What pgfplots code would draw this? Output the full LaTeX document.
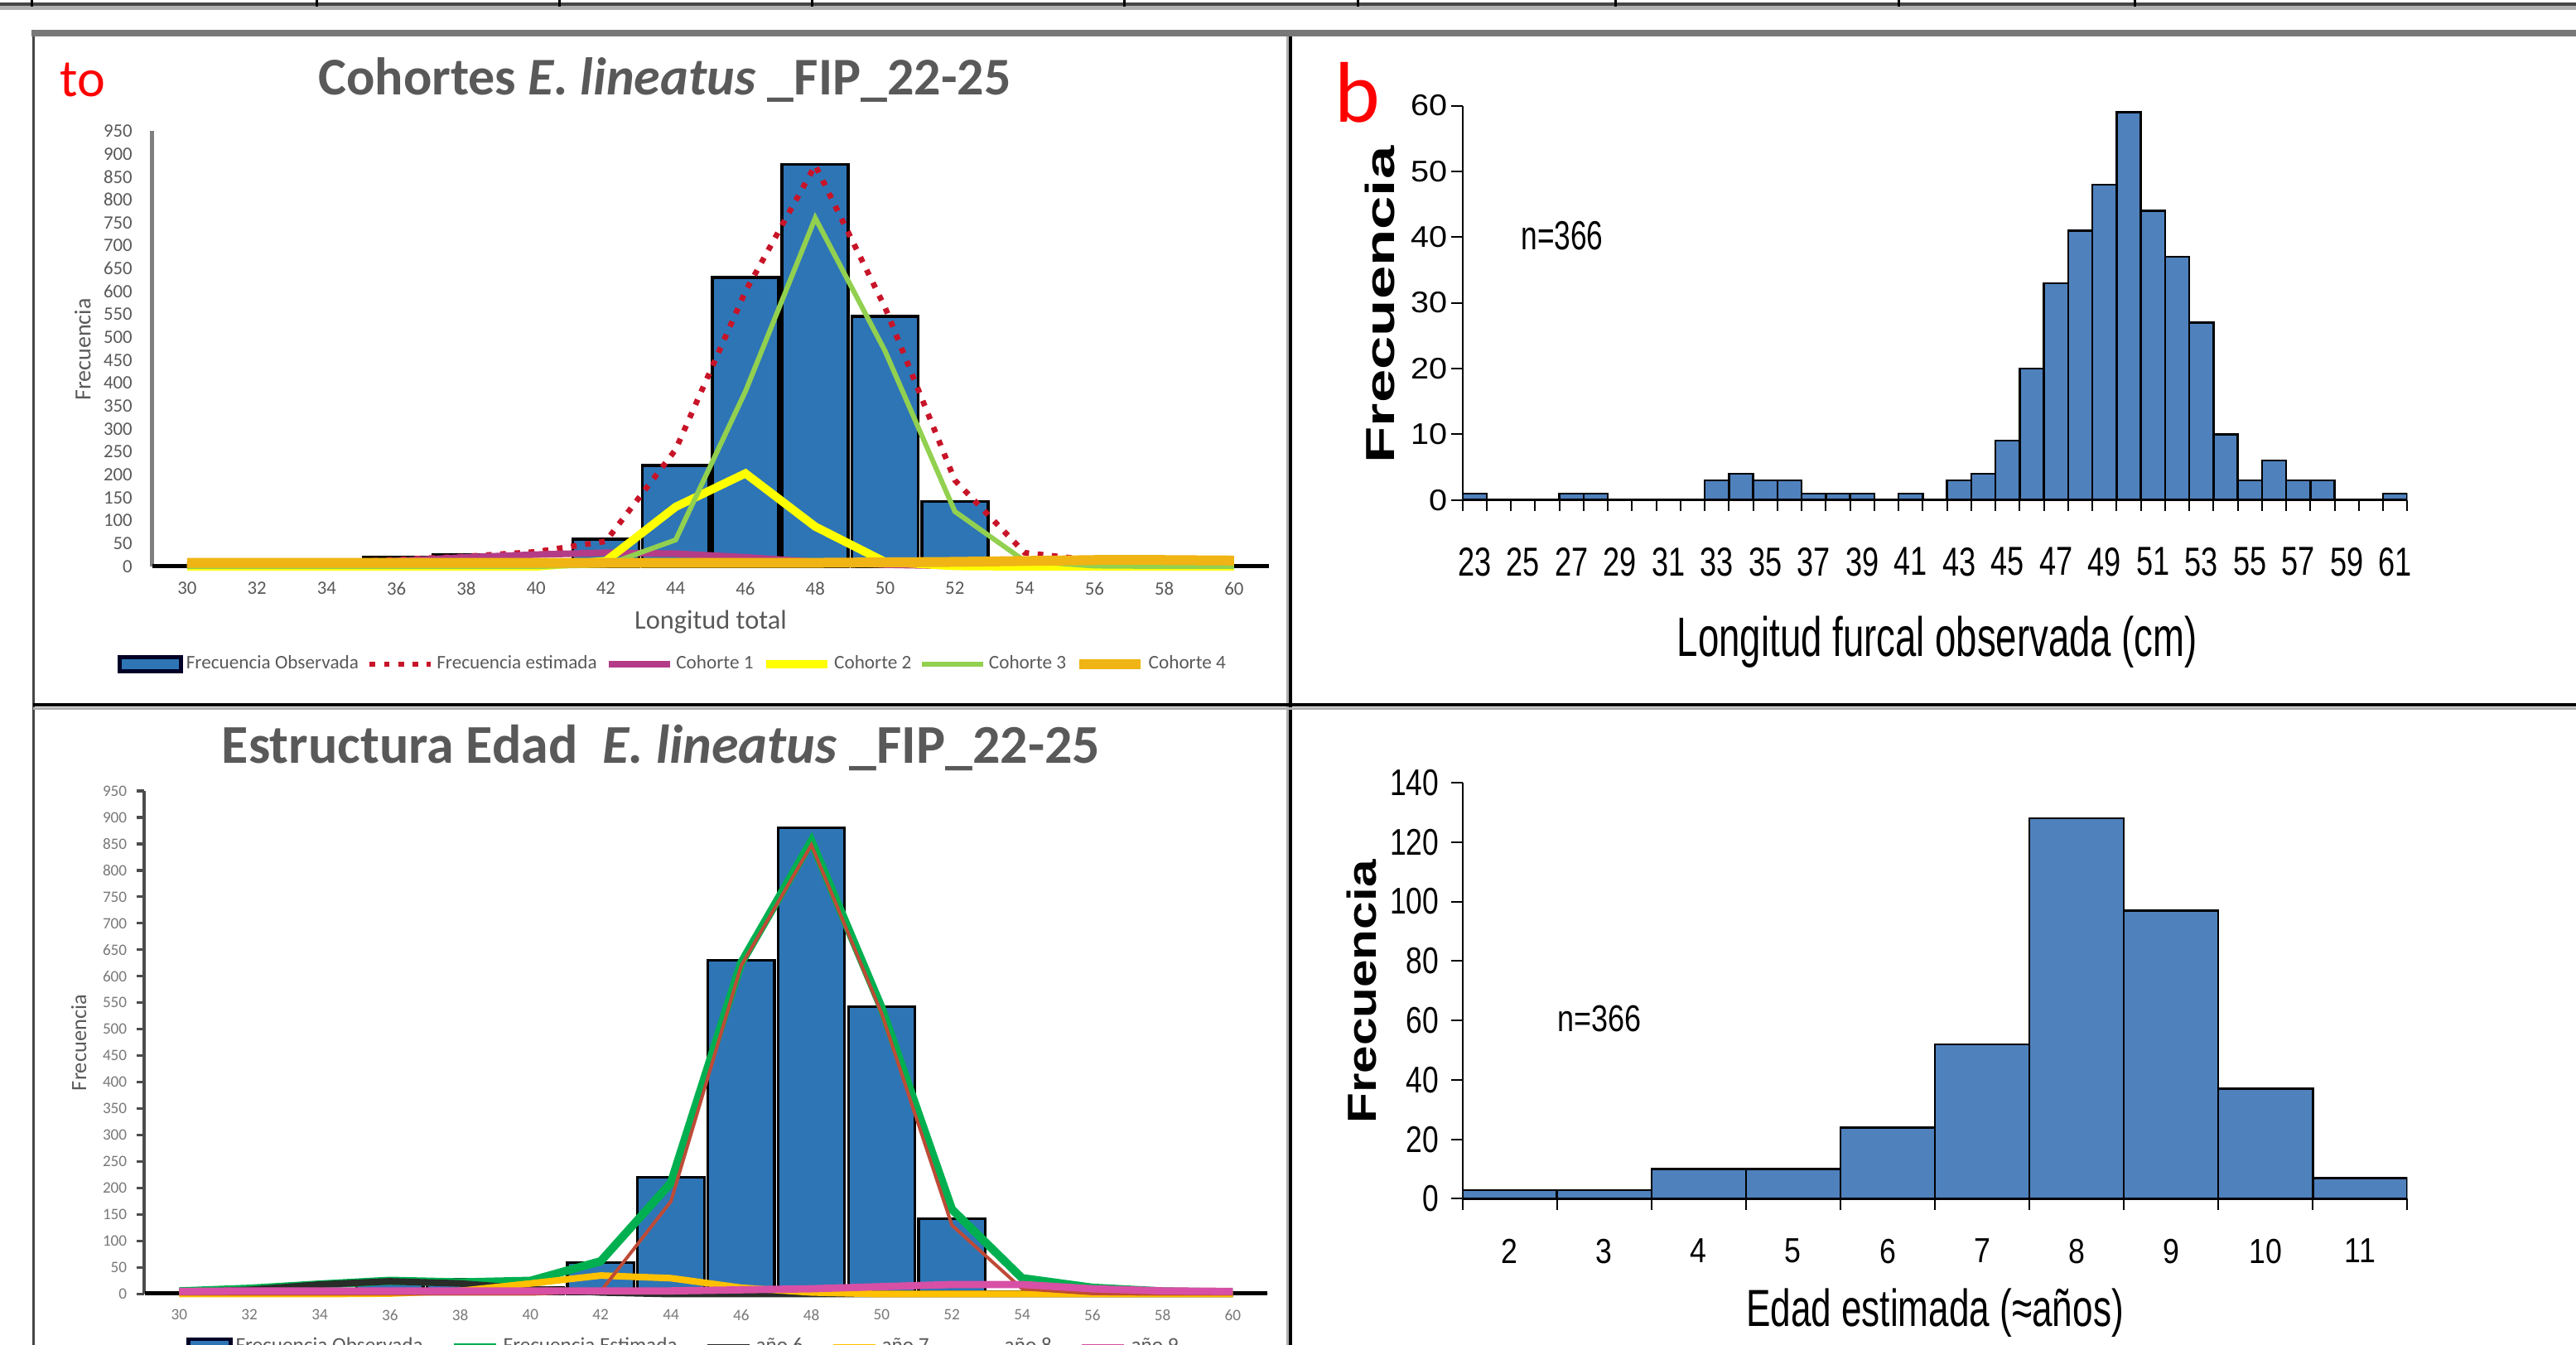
\documentclass[border=0pt]{standalone}
\usepackage{pgfplots}
\usepackage{pgfplotstable}
\pgfplotsset{compat=1.18}
\usepackage{fontspec}
\setmainfont{Carlito}
\newfontfamily\carl{Carlito}
\newfontfamily\fbxt[FakeStretch=0.74]{Liberation Sans}
\newfontfamily\fbyt[FakeStretch=1.1]{Liberation Sans}
\newfontfamily\fbxl[FakeStretch=0.68]{Liberation Sans}
\newfontfamily\fbyl[FakeStretch=1.48]{Liberation Sans}
\newfontfamily\fbn[FakeStretch=0.72]{Liberation Sans}
\newfontfamily\fdxt[FakeStretch=0.85]{Liberation Sans}
\newfontfamily\fdyt[FakeStretch=0.79]{Liberation Sans}
\newfontfamily\fdxl[FakeStretch=0.7]{Liberation Sans}
\newfontfamily\fdyl[FakeStretch=1.23]{Liberation Sans}
\newfontfamily\fdn[FakeStretch=0.8]{Liberation Sans}

\definecolor{barA}{RGB}{46,117,182}
\definecolor{txtA}{RGB}{89,89,89}
\definecolor{txtC}{RGB}{120,120,120}
\definecolor{estA}{RGB}{200,20,40}
\definecolor{co1}{RGB}{180,60,135}
\definecolor{co2}{RGB}{255,255,0}
\definecolor{co3}{RGB}{146,208,80}
\definecolor{co4}{RGB}{240,180,20}
\definecolor{estC}{RGB}{0,176,80}
\definecolor{a6}{RGB}{40,45,40}
\definecolor{a7}{RGB}{255,192,0}
\definecolor{a8}{RGB}{190,75,55}
\definecolor{a9}{RGB}{215,80,165}
\definecolor{barB}{RGB}{79,129,189}
\definecolor{frmdark}{RGB}{70,70,70}
\definecolor{frmlight}{RGB}{175,175,175}
\definecolor{frmgray}{RGB}{120,120,120}
\definecolor{axgray}{RGB}{127,127,127}

\pgfplotsset{/pgf/number format/assume math mode=true}

\pgfplotstableread{
x obs est c1 c2 c3 c4
30 3 5 2 0 0 8
32 0 6 4 0 0 8
34 0 8 7 0 0 8
36 20 15 12 0 0 8
38 25 22 20 0 0 8
40 12 32 26 0 0 8
42 60 55 30 12 3 8
44 220 255 28 130 58 8
46 630 600 20 203 382 8
48 877 875 10 87 760 8
50 545 565 4 10 470 9
52 142 188 1 1 120 10
54 5 30 0 0 12 12
56 0 13 0 0 1 14
58 0 8 0 0 0 14
60 3 5 0 0 0 13
}\dataA

\pgfplotstableread{
x obs est a6 a7 a8 a9
30 3 5 3 0 0 5
32 0 10 8 0 0 6
34 0 18 18 0 0 6
36 20 25 24 1 0 6
38 28 22 20 6 0 6
40 12 25 10 20 0 6
42 60 62 3 35 5 6
44 220 210 0 30 175 6
46 630 625 0 12 620 8
48 880 855 0 3 848 10
50 543 540 0 0 530 14
52 142 160 0 0 130 18
54 5 30 0 0 10 18
56 0 12 0 0 1 10
58 0 5 0 0 0 6
60 3 3 0 0 0 5
}\dataC

\pgfplotstableread{
x f
23 1
24 0
25 0
26 0
27 1
28 1
29 0
30 0
31 0
32 0
33 3
34 4
35 3
36 3
37 1
38 1
39 1
40 0
41 1
42 0
43 3
44 4
45 9
46 20
47 33
48 41
49 48
50 59
51 44
52 37
53 27
54 10
55 3
56 6
57 3
58 3
59 0
60 0
61 1
}\dataB

\pgfplotstableread{
x f
2 3
3 3
4 10
5 10
6 24
7 52
8 128
9 97
10 37
11 7
}\dataD

\begin{document}
\begin{tikzpicture}
\useasboundingbox (0pt,0pt) rectangle (777.5pt,-406pt);
\clip (0pt,0pt) rectangle (777.5pt,-406pt);
\begin{scope}[x=0.25pt,y=-0.25pt]
\draw[line width=1pt, draw=frmdark] (0,5) -- (3110,5);
\draw[line width=1.2pt, draw=frmlight] (0,9.5) -- (3110,9.5);
\foreach \xx in {38,382,675,980,1357,1639,1950,2292,2577} {\draw[line width=0.75pt, black] (\xx,0) -- (\xx,8);}
\draw[line width=2pt, draw=frmgray] (38,40) -- (3110,40);
\draw[line width=0.75pt, draw=frmdark] (40,44) -- (40,1624);
\draw[line width=0.7pt, draw=frmlight] (1554.5,44) -- (1554.5,1624);
\draw[line width=1pt, draw=black] (1558,44) -- (1558,1624);
\draw[line width=1pt, black] (40,851) -- (3110,851);
\draw[line width=0.8pt, draw=frmlight] (40,855.5) -- (3110,855.5);
\node[text=red, font=\carl\fontsize{16}{18}\selectfont] at (100,97) {to};
\node[text=red, font=\carl\fontsize{26}{30}\selectfont] at (1639,112) {b};
\end{scope}

% ---------------- Panel a ----------------
\begin{axis}[
  at={(45.925pt,-171pt)}, anchor=south west,
  scale only axis, width=337.075pt, height=131.5pt,
  xmin=29, xmax=61, ymin=0, ymax=950,
  clip=false,
  axis x line*=bottom, axis y line*=left,
  x axis line style={draw=black!15, line width=0.5pt},
  y axis line style={draw=axgray, line width=1.2pt},
  xtick={30,32,...,60}, ytick={0,50,...,950},
  major tick length=0pt,
  ticklabel style={font=\carl\fontsize{5.7}{6}\selectfont\color{txtA}, inner sep=0pt},
  xticklabel style={yshift=-4.5pt},
  yticklabel style={xshift=-5.8pt},
  xlabel={Longitud total}, ylabel={Frecuencia},
  xlabel style={at={(axis description cs:0.5001,-0.1274)}, anchor=center, font=\carl\fontsize{8.1}{9}\selectfont\color{txtA}},
  ylabel style={at={(axis description cs:-0.0621,0.498)}, anchor=center, font=\carl\fontsize{7}{8}\selectfont\color{txtA}},
  title={Cohortes \textit{E. lineatus} \_FIP\_22-25},
  title style={at={(axis description cs:0.459,1.117)}, anchor=center, yshift=-6pt, font=\carl\bfseries\fontsize{16}{19}\selectfont\color{txtA}},
  legend style={at={(-0.0312,-0.2243)}, anchor=west, draw=none, fill=none, inner sep=0pt,
    legend columns=6, font=\carl\fontsize{5.8}{7}\selectfont\color{txtA},
    nodes={inner sep=0.9pt},
    /tikz/every even column/.append style={column sep=1.6pt}},
  legend image code/.code={\draw[#1] (0pt,0pt) -- (18.5pt,0pt);},
  no markers,
]
\addplot[ybar, bar width=1.9, bar shift=0pt, fill=barA, draw=black, line width=0.9pt,
  legend image code/.code={\draw[fill=barA, draw=black!85!blue, line width=1.2pt] (0pt,-2.2pt) rectangle (18.5pt,2.2pt);}]
  table[x=x,y=obs]{\dataA};
\addlegendentry{Frecuencia Observada}
\addplot[estA, line width=1.7pt, dash pattern=on 1.7pt off 2.6pt] table[x=x,y=est]{\dataA};
\addlegendentry{Frecuencia estimada}
\addplot[co1, line width=2pt] table[x=x,y=c1]{\dataA};
\addlegendentry{Cohorte 1}
\addplot[co2, line width=2.5pt] table[x=x,y=c2]{\dataA};
\addlegendentry{Cohorte 2}
\addplot[co3, line width=1.5pt] table[x=x,y=c3]{\dataA};
\addlegendentry{Cohorte 3}
\addplot[co4, line width=3pt] table[x=x,y=c4]{\dataA};
\addlegendentry{Cohorte 4}
\end{axis}

% ---------------- Panel c ----------------
\begin{axis}[
  at={(43.5pt,-390.625pt)}, anchor=south west,
  scale only axis, width=339.2pt, height=151.875pt,
  xmin=29, xmax=61, ymin=0, ymax=950,
  clip=false,
  axis x line*=bottom, axis y line*=left,
  x axis line style={draw=black!15, line width=0.5pt},
  y axis line style={draw=black!70, line width=1pt},
  xtick={30,32,...,60}, ytick={0,50,...,950},
  xtick style={draw=none},
  tick align=outside, major tick length=2.25pt,
  ytick style={draw=black!70, line width=0.8pt},
  ticklabel style={font=\carl\fontsize{4.8}{5}\selectfont\color{txtC}, inner sep=0pt},
  xticklabel style={yshift=-2.25pt},
  yticklabel style={xshift=-2.75pt},
  ylabel={Frecuencia},
  ylabel style={at={(axis description cs:-0.0582,0.4996)}, anchor=center, font=\carl\fontsize{6.6}{7}\selectfont\color{txtA}},
  title={Estructura Edad\ \ \textit{E. lineatus} \_FIP\_22-25},
  title style={at={(axis description cs:0.46,1.0864)}, anchor=center, yshift=-6pt, font=\carl\bfseries\fontsize{16.5}{19}\selectfont\color{txtA}},
  legend style={at={(0.0369,-0.1062)}, anchor=west, draw=none, fill=none, inner sep=0pt,
    legend columns=6, font=\carl\fontsize{6.3}{7}\selectfont\color{txtA},
    nodes={inner sep=1pt},
    /tikz/every even column/.append style={column sep=7pt}},
  legend image code/.code={\draw[#1] (0pt,0pt) -- (12.75pt,0pt);},
  no markers,
]
\addplot[ybar, bar width=1.9, bar shift=0pt, fill=barA, draw=black, line width=0.8pt,
  legend image code/.code={\draw[fill=barA, draw=black!85!blue, line width=1.2pt] (0pt,-2.5pt) rectangle (12.75pt,2.5pt);}]
  table[x=x,y=obs]{\dataC};
\addlegendentry{Frecuencia Observada}
\addplot[estC, line width=2.5pt] table[x=x,y=est]{\dataC};
\addlegendentry{Frecuencia Estimada}
\addplot[a6, line width=2pt] table[x=x,y=a6]{\dataC};
\addlegendentry{año 6}
\addplot[a7, line width=2pt] table[x=x,y=a7]{\dataC};
\addlegendentry{año 7}
\addplot[a8, line width=1pt] table[x=x,y=a8]{\dataC};
\addlegendentry{año 8}
\addplot[a9, line width=2.2pt] table[x=x,y=a9]{\dataC};
\addlegendentry{año 9}
\end{axis}

% ---------------- Panel b ----------------
\begin{axis}[
  at={(441.4pt,-150.925pt)}, anchor=south west,
  scale only axis, width=285.2pt, height=119.05pt,
  xmin=22.5, xmax=61.5, ymin=0, ymax=60,
  axis x line*=bottom, axis y line*=left,
  x axis line style={line width=0.9pt},
  y axis line style={line width=0.5pt},
  xtick={22.5,23.5,...,61.5},
  xticklabels={23,,25,,27,,29,,31,,33,,35,,37,,39,,41,,43,,45,,47,,49,,51,,53,,55,,57,,59,,61},
  x tick label as interval,
  ytick={0,10,...,60},
  tick align=outside, major tick length=3.3pt,
  tick style={black, line width=0.5pt},
  xticklabel style={font=\fbxt\fontsize{12.2}{13}\selectfont, inner sep=0pt, yshift=-10.9pt},
  yticklabel style={font=\fbyt\fontsize{9}{10}\selectfont, inner sep=0pt, xshift=-1.1pt},
  xlabel={Longitud furcal observada (cm)}, ylabel={Frecuencia},
  xlabel style={at={(axis description cs:0.5026,-0.3597)}, anchor=center, font=\fbxl\fontsize{16.75}{18}\selectfont},
  ylabel style={at={(axis description cs:-0.0873,0.495)}, anchor=center, font=\fbyl\bfseries\fontsize{12.25}{13}\selectfont},
]
\addplot[ybar, bar width=1, bar shift=0pt, fill=barB, draw=black, line width=0.6pt] table[x=x,y=f]{\dataB};
\node[font=\fbn\fontsize{12.25}{13}\selectfont] at (axis description cs:0.1055,0.671) {n=366};
\end{axis}

% ---------------- Panel d ----------------
\begin{axis}[
  at={(441.4pt,-361.875pt)}, anchor=south west,
  scale only axis, width=285.2pt, height=125.625pt,
  xmin=1.5, xmax=11.5, ymin=0, ymax=140,
  axis x line*=bottom, axis y line*=left,
  x axis line style={line width=0.9pt},
  y axis line style={line width=0.5pt},
  xtick={1.5,2.5,...,11.5},
  xticklabels={2,3,4,5,6,7,8,9,10,11},
  x tick label as interval,
  ytick={0,20,...,140},
  tick align=outside, major tick length=3.3pt,
  tick style={black, line width=0.5pt},
  xticklabel style={font=\fdxt\fontsize{10.5}{11}\selectfont, inner sep=0pt, yshift=-8.6pt},
  yticklabel style={font=\fdyt\fontsize{11.2}{12}\selectfont, inner sep=0pt, xshift=-3.6pt},
  xlabel={Edad estimada (≈años)}, ylabel={Frecuencia},
  xlabel style={at={(axis description cs:0.5,-0.2736)}, anchor=center, font=\fdxl\fontsize{15.75}{17}\selectfont},
  ylabel style={at={(axis description cs:-0.1066,0.4975)}, anchor=center, font=\fdyl\bfseries\fontsize{12.25}{13}\selectfont},
]
\addplot[ybar, bar width=1, bar shift=0pt, fill=barB, draw=black, line width=0.6pt] table[x=x,y=f]{\dataD};
\node[font=\fdn\fontsize{11.25}{12}\selectfont] at (axis description cs:0.145,0.433) {n=366};
\end{axis}
\end{tikzpicture}
\end{document}
